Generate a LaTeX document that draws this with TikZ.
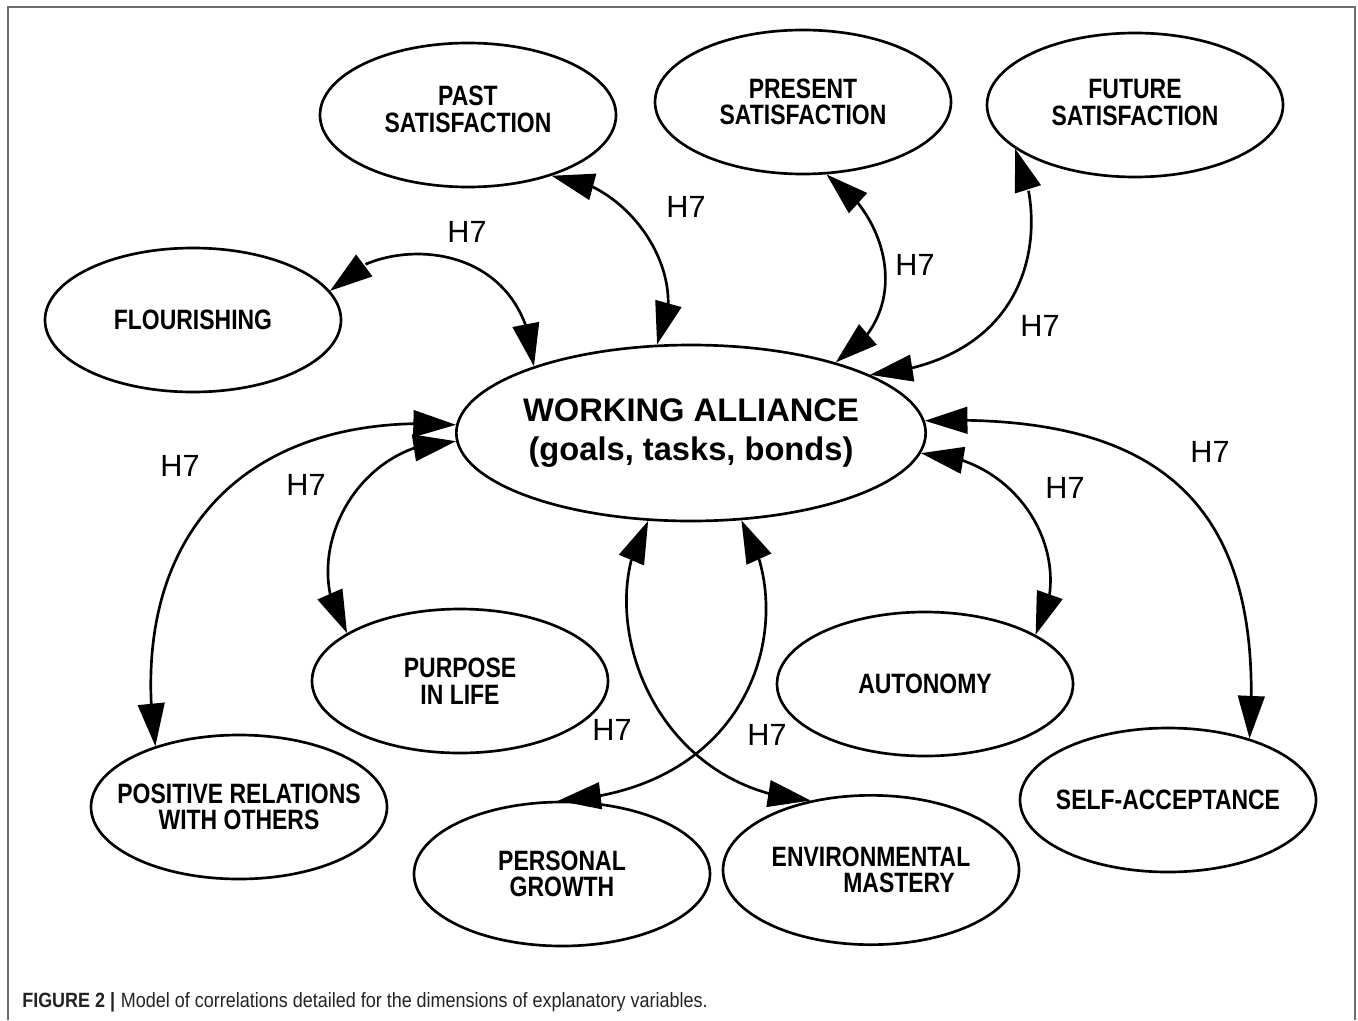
\documentclass[tikz,border=0pt]{standalone}
\usepackage{fontspec}
\setmainfont{Liberation Sans}
\newfontfamily\ellfont[FakeStretch=0.82]{Liberation Sans Bold}
\newfontfamily\capfont[FakeStretch=0.87]{Liberation Sans}
\newfontfamily\capfontb[FakeStretch=0.87]{Liberation Sans Bold}
\usetikzlibrary{shapes.geometric,arrows.meta,bending}
\definecolor{framegray}{RGB}{110,110,110}
\definecolor{captext}{RGB}{35,35,35}
\begin{document}
\begin{tikzpicture}[x=0.75pt,y=-0.75pt,
  ell/.style={draw,ellipse,line width=2pt,inner sep=0pt,minimum width=222pt,minimum height=108pt},
  lab/.style={font=\ellfont\fontsize{21}{20}\selectfont,align=center},
  conn/.style={line width=2pt,{Triangle[length=32pt,width=20pt]}-{Triangle[length=32pt,width=20pt]}},
  hlab/.style={font=\fontsize{23}{23}\selectfont}]
\useasboundingbox (0,0) rectangle (1358,1020);
\draw[framegray,line width=1.5pt] (8,1020) -- (8,7) -- (1355,7) -- (1355,1020);

% central node
\node[ell,minimum width=352pt,minimum height=132pt,
  label={[font=\bfseries\fontsize{24.5}{29}\selectfont,align=center]center:{WORKING ALLIANCE\\(goals, tasks, bonds)}}] (wa) at (691,433) {};

% outer nodes
\node[ell,label={[lab,yshift=4pt]center:{PAST\\SATISFACTION}}] (past) at (468,115) {};
\node[ell,label={[lab]center:{PRESENT\\SATISFACTION}}] (present) at (803,102) {};
\node[ell,label={[lab,yshift=2pt]center:{FUTURE\\SATISFACTION}}] (future) at (1135,105) {};
\node[ell,label={[lab]center:{FLOURISHING}}] (flour) at (193,320) {};
\node[ell,label={[lab]center:{PURPOSE\\IN LIFE}}] (purpose) at (460,681) {};
\node[ell,label={[lab]center:{AUTONOMY}}] (auto) at (925,684) {};
\node[ell,label={[lab]center:{POSITIVE RELATIONS\\WITH OTHERS}}] (posrel) at (239,807) {};
\node[ell,label={[lab]center:{PERSONAL\\GROWTH}}] (personal) at (562,874) {};
\node[ell,minimum height=112pt,label={[lab]center:{ENVIRONMENTAL\\\hspace*{42pt}MASTERY}}] (env) at (871,870) {};
\node[ell,label={[lab]center:{SELF-ACCEPTANCE}}] (self) at (1168,800) {};

% connectors
\draw[conn] (flour.12) .. controls (370,235) and (525,230) .. (wa.157);
\draw[conn] (past.-36) .. controls (630,180) and (695,280) .. (wa.111);
\draw[conn] (present.-72) .. controls (890,215) and (915,315) .. (wa.26);
\draw[conn] (future.-160) .. controls (1050,220) and (1040,360) .. (wa.18);
\draw[conn] (wa.178) .. controls (248,410) and (125,533) .. (posrel.144);
\draw[conn] (wa.182) .. controls (355,440) and (295,560) .. (purpose.157);
\draw[conn] (wa.-5) .. controls (1020,455) and (1080,560) .. (auto.24);
\draw[conn] (wa.3) .. controls (1165,412) and (1266,508) .. (self.37);
\draw[conn] (wa.-116) .. controls (590,610) and (650,790) .. (env.131);
\draw[conn] (wa.-60) .. controls (800,610) and (760,790) .. (personal.93);

% labels
\node[hlab] (h1) at (467,232) {H7};
\node[hlab] (h2) at (686,207) {H7};
\node[hlab] (h3) at (915,265) {H7};
\node[hlab] (h4) at (1040,326) {H7};
\node[hlab] (h5) at (180,466) {H7};
\node[hlab] (h6) at (306,485) {H7};
\node[hlab] (h7) at (1065,488) {H7};
\node[hlab] (h8) at (1210,452) {H7};
\node[hlab] (h9) at (612,730) {H7};
\node[hlab] (h10) at (767,735) {H7};

% caption
\node[anchor=west,inner sep=0pt,text=captext,font=\fontsize{15.5}{17}\selectfont] (cap) at (22,1002)
  {{\capfontb FIGURE 2 |} {\capfont Model of correlations detailed for the dimensions of explanatory variables.}};
\end{tikzpicture}
\end{document}
